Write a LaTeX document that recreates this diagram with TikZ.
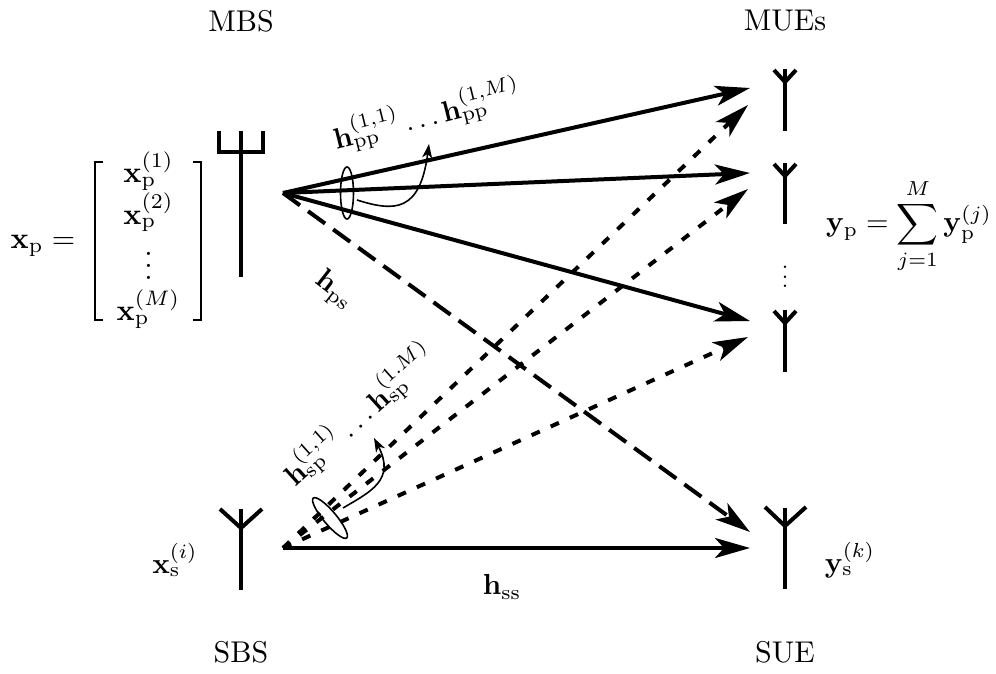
\documentclass[tikz,border=0pt]{standalone}
\usepackage{amsmath}
\usetikzlibrary{arrows.meta,shapes.geometric}
\tikzset{
  lab/.style={scale=3,inner sep=0pt,outer sep=0pt},
  mlab/.style={scale=2.9,inner sep=0pt,outer sep=0pt},
  ant/.style={line width=4pt},
  brk/.style={line width=1.3pt},
  link/.style={line width=4pt,-{Stealth[length=35pt,width=20pt,inset=9pt]}},
  solidlink/.style={link},
  dotlink/.style={link,dash pattern=on 9pt off 12pt},
  dashlink/.style={link,dash pattern=on 21pt off 10pt},
  bundle/.style={draw,ellipse,line width=1.6pt,inner sep=0pt,minimum width=52pt,minimum height=13pt},
  curvearrow/.style={line width=1.6pt,-{Stealth[length=14pt,width=10pt,inset=4pt]}}
}
\begin{document}
\begin{tikzpicture}[x=1pt,y=-1pt]
\useasboundingbox (0,0) rectangle (996,673);
% labels
\node[lab] (mbs) at (241,21) {MBS};
\node[lab] (mues) at (785,21) {MUEs};
\node[lab] (sbs) at (241,652) {SBS};
\node[lab] (sue) at (785,652) {SUE};
\node[lab,anchor=base] (xp) at (43,248) {$\mathbf{x}_{\mathrm{p}}=$};
\node[lab] (xvec) at (148.5,241) {\renewcommand\arraystretch{0.93}\setlength\arraycolsep{0pt}$\begin{array}{c}\mathbf{x}_{\mathrm{p}}^{(1)}\\ \mathbf{x}_{\mathrm{p}}^{(2)}\\ \vdots\\ \mathbf{x}_{\mathrm{p}}^{(M)}\end{array}$};
\draw[brk] (103,162) -- (95,162) -- (95,320) -- (103,320);
\draw[brk] (193,162) -- (201,162) -- (201,320) -- (193,320);
\node[mlab] (yp) at (909,226) {$\mathbf{y}_{\mathrm{p}}=\displaystyle\sum_{j=1}^{M}\mathbf{y}_{\mathrm{p}}^{(j)}$};
\node[mlab] (xs) at (175,560) {$\mathbf{x}_{\mathrm{s}}^{(i)}$};
\node[mlab] (ys) at (850,560) {$\mathbf{y}_{\mathrm{s}}^{(k)}$};
\node[mlab] (hss) at (502,587) {$\mathbf{h}_{\mathrm{ss}}$};
\node[mlab,rotate=-38] (hps) at (334,291) {$\mathbf{h}_{\mathrm{ps}}$};
\node[mlab,rotate=14] (hpp) at (427,115) {$\mathbf{h}_{\mathrm{pp}}^{(1,1)}\ldots\mathbf{h}_{\mathrm{pp}}^{(1,M)}$};
\node[mlab,rotate=42] (hsp) at (359,415) {$\mathbf{h}_{\mathrm{sp}}^{(1,1)}\ldots\mathbf{h}_{\mathrm{sp}}^{(1.M)}$};
\node[lab,scale=0.77] (vd) at (785,270) {$\vdots$};
% antennas
\draw[ant] (241,131) -- (241,277);
\draw[ant] (219,131) -- (219,152) -- (263,152) -- (263,131);
\draw[ant] (785,69) -- (785,131);
\draw[ant] (774,70) -- (785,82) -- (796,70);
\draw[ant] (785,163) -- (785,224);
\draw[ant] (774,164) -- (785,176) -- (796,164);
\draw[ant] (785,310) -- (785,372);
\draw[ant] (774,311) -- (785,323) -- (796,311);
\draw[ant] (241,509) -- (241,590);
\draw[ant] (220,509) -- (241,528) -- (262,509);
\draw[ant] (785,508) -- (785,589);
\draw[ant] (765,507) -- (785,526) -- (806,507);
% end points
\coordinate (P) at (283,193);
\coordinate (S) at (283,548);
\coordinate (m1) at (750,88);
\coordinate (m2) at (750,173);
\coordinate (m3) at (750,321);
\coordinate (d1) at (748,105);
\coordinate (d2) at (748,189);
\coordinate (d3) at (748,337);
\coordinate (u) at (750,548);
\coordinate (v) at (750,532);
% links
\draw[solidlink] (P) -- (m1);
\draw[solidlink] (P) -- (m2);
\draw[solidlink] (P) -- (m3);
\draw[dashlink] (P) -- (v);
\draw[solidlink] (S) -- (u);
\draw[dotlink] (S) -- (d1);
\draw[dotlink] (S) -- (d2);
\draw[dotlink] (S) -- (d3);
% bundles
\node[bundle,rotate=90] (e1) at (347,193) {};
\node[bundle,rotate=-50] (e2) at (330,518) {};
\coordinate (b1s) at (357,200);
\coordinate (b1e) at (429,144);
\coordinate (b2s) at (343,508);
\coordinate (b2e) at (374,438);
\draw[curvearrow] (b1s) .. controls (395,212) and (420,212) .. (b1e);
\draw[curvearrow] (b2s) .. controls (370,492) and (396,480) .. (b2e);
\end{tikzpicture}
\end{document}
